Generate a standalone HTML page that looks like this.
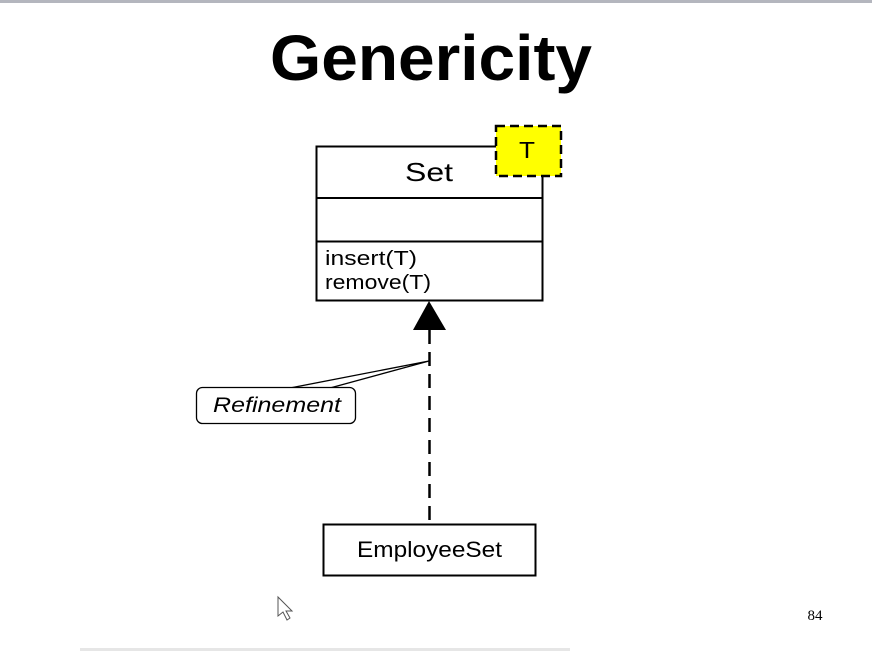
<!DOCTYPE html>
<html><head><meta charset="utf-8"><style>
html,body{margin:0;padding:0;background:#fff;}
svg{display:block;}
</style></head><body>
<svg width="872" height="652" viewBox="0 0 872 652" xmlns="http://www.w3.org/2000/svg">
<rect x="0" y="0" width="872" height="652" fill="#fff"/>
<rect x="0" y="0" width="872" height="3" fill="#b4b6be"/>
<rect x="80" y="648" width="490" height="3" fill="#e6e6e6"/>
<text x="431" y="80" text-anchor="middle" font-family="Liberation Sans, sans-serif" font-weight="bold" font-size="64" textLength="322" lengthAdjust="spacingAndGlyphs">Genericity</text>
<!-- Set class -->
<rect x="316.5" y="146.5" width="226" height="154" fill="#fff" stroke="#000" stroke-width="2"/>
<line x1="316" y1="198" x2="542" y2="198" stroke="#000" stroke-width="2"/>
<line x1="316" y1="241.5" x2="542" y2="241.5" stroke="#000" stroke-width="2"/>
<text x="405" y="181" font-family="Liberation Sans, sans-serif" font-size="26" textLength="48" lengthAdjust="spacingAndGlyphs">Set</text>
<text x="325" y="265" font-family="Liberation Sans, sans-serif" font-size="20" textLength="92" lengthAdjust="spacingAndGlyphs">insert(T)</text>
<text x="325" y="289" font-family="Liberation Sans, sans-serif" font-size="20" textLength="106" lengthAdjust="spacingAndGlyphs">remove(T)</text>
<rect x="496" y="126" width="65" height="50" fill="#ffff00" stroke="#000" stroke-width="2.5" stroke-dasharray="9,5"/>
<text x="527" y="158" text-anchor="middle" font-family="Liberation Sans, sans-serif" font-size="23" textLength="16" lengthAdjust="spacingAndGlyphs">T</text>
<!-- arrow -->
<polygon points="429,301 413,330 446,330" fill="#000"/>
<line x1="429.5" y1="330" x2="429.5" y2="524" stroke="#000" stroke-width="2.5" stroke-dasharray="14,8"/>
<!-- callout -->
<polyline points="290,388 429,361 330,388" fill="none" stroke="#000" stroke-width="1.3"/>
<rect x="196.5" y="387.5" width="159" height="36" rx="6" fill="#fff" stroke="#000" stroke-width="1.3"/>
<text x="213" y="412" font-family="Liberation Sans, sans-serif" font-style="italic" font-size="21" textLength="128" lengthAdjust="spacingAndGlyphs">Refinement</text>
<!-- EmployeeSet -->
<rect x="323.5" y="524.5" width="212" height="51" fill="#fff" stroke="#000" stroke-width="2"/>
<text x="357" y="557" font-family="Liberation Sans, sans-serif" font-size="22" textLength="145" lengthAdjust="spacingAndGlyphs">EmployeeSet</text>
<text x="815" y="620" text-anchor="middle" font-family="Liberation Serif, serif" font-size="15">84</text>
<polygon points="278,597 278,616 283,612 287,620 290,618 286,611 292,611" fill="#fff" stroke="#555" stroke-width="1"/>
</svg>
</body></html>
